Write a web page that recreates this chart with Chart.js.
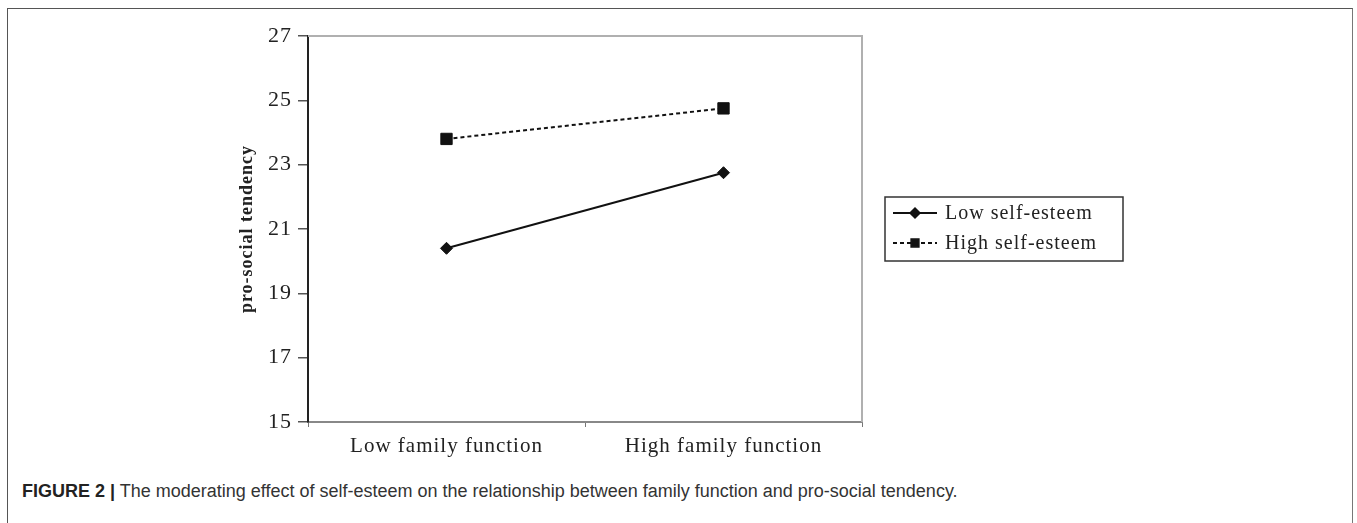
<!DOCTYPE html>
<html>
<head>
<meta charset="utf-8">
<script src="https://cdn.jsdelivr.net/npm/chart.js@4/dist/chart.umd.min.js"></script>
<style>
  html, body { margin: 0; padding: 0; background: #fff; width: 1357px; height: 523px; overflow: hidden; }
  #frame { position: absolute; left: 7px; top: 8px; width: 1344px; height: 530px;
           border-top: 1px solid #555; border-left: 1px solid #555; border-right: 1px solid #777; }
  #wrap { position: absolute; left: 0; top: 0; width: 1357px; height: 470px; }
  #caption { position: absolute; left: 22px; top: 481px; font-family: "Liberation Sans", Arial, sans-serif;
             font-size: 18px; color: #333; white-space: nowrap; }
  #caption b { color: #222; }
</style>
</head>
<body>
<div id="frame"></div>
<div id="wrap"><canvas id="c"></canvas></div>
<div id="caption"><b>FIGURE 2 |</b> The moderating effect of self-esteem on the relationship between family function and pro-social tendency.</div>
<script>
const categories = ['Low family function', 'High family function'];
const seriesLabels = ['Low self-esteem', 'High self-esteem'];
const lowSelfEsteem = [20.4, 22.75];
const highSelfEsteem = [23.8, 24.75];
const yTicks = [15, 17, 19, 21, 23, 25, 27];
const yTitle = 'pro-social tendency';

const SERIF = '"Liberation Serif", "Times New Roman", serif';

const spacingPlugin = {
  id: 'spacing',
  beforeDraw(chart) { chart.ctx.letterSpacing = '1px'; }
};

const framePlugin = {
  id: 'frameLines',
  afterDraw(chart) {
    const a = chart.chartArea, ctx = chart.ctx;
    ctx.save();
    ctx.strokeStyle = '#b0b0b0';
    ctx.lineWidth = 2;
    ctx.beginPath();
    ctx.moveTo(a.left, a.top);
    ctx.lineTo(a.right, a.top);
    ctx.lineTo(a.right, a.bottom);
    ctx.stroke();
    ctx.restore();
  }
};

const legendPlugin = {
  id: 'boxLegend',
  afterDraw(chart) {
    const a = chart.chartArea, ctx = chart.ctx;
    const left = a.right + 23, top = a.top + 161, w = 238, h = 64;
    ctx.save();
    ctx.strokeStyle = '#333';
    ctx.lineWidth = 1.5;
    ctx.strokeRect(left, top, w, h);
    chart.data.datasets.forEach((ds, i) => {
      const y = top + 16 + i * 30;
      ctx.save();
      ctx.strokeStyle = ds.borderColor;
      ctx.lineWidth = 2;
      ctx.setLineDash(ds.borderDash || []);
      ctx.beginPath();
      ctx.moveTo(left + 8, y);
      ctx.lineTo(left + 52, y);
      ctx.stroke();
      ctx.restore();
      ctx.fillStyle = '#111';
      ctx.strokeStyle = '#111';
      Chart.helpers.drawPoint(ctx, {
        pointStyle: ds.pointStyle,
        radius: ds.pointStyle === 'rect' ? 5.5 : 5,
        rotation: 0,
        borderWidth: 1
      }, left + 30, y);
      ctx.fillStyle = '#222';
      ctx.font = '20px ' + SERIF;
      ctx.letterSpacing = '1px';
      ctx.textBaseline = 'middle';
      ctx.textAlign = 'left';
      ctx.fillText(ds.label, left + 60, y + 1);
    });
    ctx.restore();
  }
};

new Chart(document.getElementById('c'), {
  type: 'line',
  data: {
    labels: categories,
    datasets: [
      {
        label: seriesLabels[0],
        data: lowSelfEsteem,
        borderColor: '#111',
        backgroundColor: '#111',
        borderWidth: 2,
        pointStyle: 'rectRot',
        pointRadius: 6,
        pointBorderWidth: 1,
        pointBackgroundColor: '#111',
        pointBorderColor: '#111',
        tension: 0
      },
      {
        label: seriesLabels[1],
        data: highSelfEsteem,
        borderColor: '#111',
        backgroundColor: '#111',
        borderWidth: 2,
        borderDash: [4, 3],
        pointStyle: 'rect',
        pointRadius: 8,
        pointBorderWidth: 1,
        pointBackgroundColor: '#111',
        pointBorderColor: '#111',
        tension: 0
      }
    ]
  },
  options: {
    responsive: true,
    maintainAspectRatio: false,
    devicePixelRatio: 1,
    animation: false,
    layout: { padding: { left: 233, top: 36, right: 495, bottom: 0 } },
    plugins: { legend: { display: false }, tooltip: { enabled: false } },
    scales: {
      x: {
        type: 'category',
        offset: true,
        afterFit(scale) { scale.height = 48; },
        grid: { display: true, drawOnChartArea: false, drawTicks: true, tickLength: 5, offset: true, color: '#777', lineWidth: 1 },
        border: { display: true, color: '#888', width: 2 },
        ticks: { color: '#222', padding: 7, font: { family: SERIF, size: 21 }, maxRotation: 0 }
      },
      y: {
        min: 15,
        max: 27,
        afterFit(scale) { scale.width = 75; },
        afterBuildTicks(scale) { scale.ticks = yTicks.map(v => ({ value: v })); },
        grid: { display: true, drawOnChartArea: false, drawTicks: true, tickLength: 10, color: '#555', lineWidth: 1.5 },
        border: { display: true, color: '#222', width: 2 },
        ticks: { color: '#222', padding: 6, font: { family: SERIF, size: 22 } },
        title: { display: true, text: yTitle, color: '#222', font: { family: SERIF, size: 18, weight: 'bold' }, padding: { top: 4, bottom: 4 } }
      }
    }
  },
  plugins: [spacingPlugin, framePlugin, legendPlugin]
});
</script>
</body>
</html>
